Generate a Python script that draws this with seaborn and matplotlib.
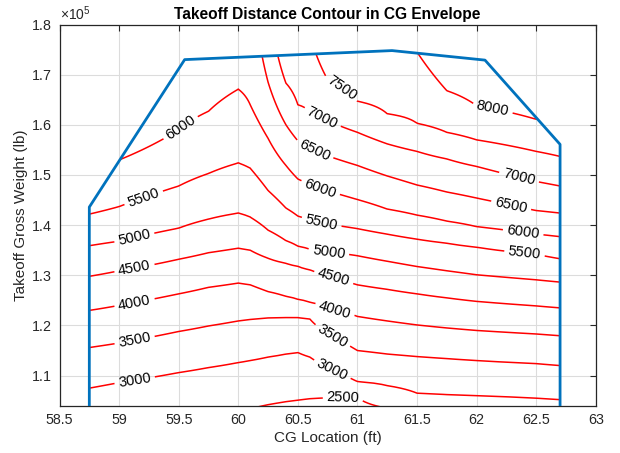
import numpy as np
import pandas as pd
import matplotlib
matplotlib.use("Agg")
import matplotlib.pyplot as plt
import seaborn as sns
from matplotlib.patches import Polygon
from matplotlib.ticker import FuncFormatter, ScalarFormatter

# ---------------- data ----------------
# CG stations (ft) at which the contour crossings were read
cg_stations = [58.75, 59.0, 59.5, 59.75, 60.0, 60.1, 60.25, 60.4, 60.5, 60.6,
               60.75, 61.0, 61.25, 61.5, 61.75, 62.0, 62.5, 62.7]

# gross weight (x1e5 lb) where each takeoff-distance level is met at each station
w_2000 = [0.915, 0.920, 0.935, 0.940, 0.945, 0.950, 0.955, 0.960, 0.960, 0.962,
          0.965, 0.965, 0.960, 0.955, 0.950, 0.945, 0.940, 0.935]
w_2500 = [0.995, 1.003, 1.018, 1.024, 1.030, 1.034, 1.042, 1.048, 1.051, 1.054,
          1.056, 1.056, 1.035, 1.020, 1.012, 1.005, 0.995, 0.990]
w_3000 = [1.075, 1.086, 1.106, 1.116, 1.126, 1.130, 1.137, 1.143, 1.146, 1.137,
          1.116, 1.088, 1.080, 1.065, 1.062, 1.060, 1.055, 1.052]
w_3500 = [1.156, 1.165, 1.188, 1.199, 1.209, 1.212, 1.215, 1.216, 1.216, 1.213,
          1.186, 1.150, 1.143, 1.138, 1.134, 1.130, 1.124, 1.120]
w_4000 = [1.230, 1.240, 1.263, 1.276, 1.2845, 1.281, 1.2675, 1.258, 1.252, 1.246,
          1.235, 1.218, 1.209, 1.201, 1.195, 1.190, 1.183, 1.1795]
w_4500 = [1.298, 1.309, 1.332, 1.345, 1.354, 1.350, 1.334, 1.324, 1.318, 1.311,
          1.300, 1.281, 1.272, 1.263, 1.255, 1.248, 1.239, 1.235]
w_5000 = [1.359, 1.368, 1.394, 1.412, 1.424, 1.416, 1.390, 1.369, 1.358, 1.352,
          1.347, 1.339, 1.328, 1.3175, 1.309, 1.301, 1.291, 1.2865]
w_5500 = [1.422, 1.437, 1.478, 1.503, 1.524, 1.5135, 1.469, 1.434, 1.418, 1.410,
          1.402, 1.393, 1.382, 1.372, 1.364, 1.356, 1.342, 1.333]
w_6000 = [1.485, 1.530, 1.590, 1.627, 1.671, 1.640, 1.573, 1.519, 1.492, 1.481,
          1.468, 1.451, 1.432, 1.420, 1.408, 1.397, 1.382, 1.377]
w_6500 = [1.560, 1.620, 1.760, 1.820, 1.900, 1.900, 1.685, 1.600, 1.568, 1.552,
          1.538, 1.519, 1.498, 1.480, 1.466, 1.454, 1.429, 1.424]
w_7000 = [1.640, 1.720, 1.850, 1.900, 1.950, 1.950, 1.850, 1.683, 1.640, 1.625,
          1.608, 1.585, 1.562, 1.547, 1.532, 1.517, 1.487, 1.478]
w_7500 = [1.720, 1.800, 1.920, 1.950, 2.000, 2.000, 1.950, 1.780, 1.780, 1.780,
          1.690, 1.647, 1.622, 1.603, 1.585, 1.570, 1.547, 1.537]
w_8000 = [1.800, 1.880, 1.980, 2.000, 2.050, 2.050, 2.000, 1.950, 1.900, 1.850,
          1.800, 1.770, 1.755, 1.745, 1.668, 1.638, 1.611, 1.605]
w_8500 = [1.900, 1.950, 2.050, 2.100, 2.100, 2.100, 2.050, 2.000, 2.000, 1.980,
          1.950, 1.900, 1.860, 1.830, 1.790, 1.760, 1.700, 1.690]

table_levels = [2000, 2500, 3000, 3500, 4000, 4500, 5000, 5500, 6000, 6500,
                7000, 7500, 8000, 8500]
shown_levels = [2500, 3000, 3500, 4000, 4500, 5000, 5500, 6000, 6500, 7000,
                7500, 8000]

# CG envelope (ft, lb)
env_cg = [58.75, 58.75, 59.55, 61.29, 62.07, 62.70, 62.70]
env_w = [1.00e5, 1.436e5, 1.730e5, 1.748e5, 1.729e5, 1.561e5, 1.00e5]

# x / y ticks
x_ticks = [58.5, 59, 59.5, 60, 60.5, 61, 61.5, 62, 62.5, 63]
y_ticks = [1.1e5, 1.2e5, 1.3e5, 1.4e5, 1.5e5, 1.6e5, 1.7e5, 1.8e5]

# ---------------- build the grid the contour routine needs ----------------
crossings = np.array([w_2000, w_2500, w_3000, w_3500, w_4000, w_4500, w_5000,
                      w_5500, w_6000, w_6500, w_7000, w_7500, w_8000, w_8500])
w_rows = np.arange(0.95, 2.1001, 0.0025)
Z = np.empty((len(w_rows), len(cg_stations)))
for j in range(len(cg_stations)):
    Z[:, j] = np.interp(w_rows, crossings[:, j], table_levels)

# ---------------- plotting ----------------
sns.set_theme(style="white")
plt.rcParams['font.family'] = ['Liberation Sans', 'DejaVu Sans']
plt.rcParams['mathtext.fontset'] = 'custom'
plt.rcParams['mathtext.rm'] = 'Liberation Sans'

dark = '#262626'
fig = plt.figure(figsize=(6.2, 4.53), dpi=100)
ax = fig.add_axes([0.096, 0.1044, 0.865, 0.8415])

ax.grid(True, color='#dcdcdc', linewidth=0.8, zorder=0)
ax.set_axisbelow(True)

clip_poly = Polygon(np.column_stack([env_cg, env_w]), closed=True,
                    facecolor='none', edgecolor='none')
ax.add_patch(clip_poly)

cs = ax.contour(cg_stations, w_rows * 1e5, Z, levels=shown_levels,
                colors='#ff0000', linewidths=1.1, zorder=2)
cs.set_clip_path(clip_poly)

label_pos = [(59.53, 1.59e5), (59.21, 1.452e5), (59.13, 1.373e5), (59.13, 1.313e5),
             (59.13, 1.245e5), (59.13, 1.171e5), (59.13, 1.092e5),
             (60.86, 1.672e5), (60.70, 1.612e5), (60.64, 1.55e5), (60.69, 1.474e5),
             (60.70, 1.407e5), (60.76, 1.347e5), (60.80, 1.295e5), (60.81, 1.231e5),
             (60.79, 1.179e5), (60.78, 1.108e5), (60.88, 1.054e5),
             (62.13, 1.627e5), (62.35, 1.490e5), (62.29, 1.44e5), (62.39, 1.385e5),
             (62.40, 1.339e5)]
ax.set_xlim(58.5, 63)
ax.set_ylim(1.04e5, 1.8e5)
ax.clabel(cs, manual=label_pos, inline=True, fmt='%d', fontsize=10.5,
          colors='black', inline_spacing=4)

env_df = pd.DataFrame({'cg': env_cg, 'w': env_w})
sns.lineplot(data=env_df, x='cg', y='w', sort=False, estimator=None,
             color='#0072BD', linewidth=2.0, ax=ax, zorder=3)

ax.set_xlim(58.5, 63)
ax.set_ylim(1.04e5, 1.8e5)
ax.set_xticks(x_ticks)
ax.set_yticks(y_ticks)
ax.xaxis.set_major_formatter(FuncFormatter(lambda v, p: f"{v:g}"))
yfmt = ScalarFormatter(useMathText=True)
yfmt.set_powerlimits((0, 0))
ax.yaxis.set_major_formatter(yfmt)
ax.yaxis.get_offset_text().set_fontsize(10)
ax.yaxis.get_offset_text().set_color(dark)

ax.tick_params(axis='both', direction='in', top=True, right=True, length=4,
               width=0.8, colors=dark, labelsize=10.3, pad=5)
for s in ax.spines.values():
    s.set_color(dark)
    s.set_linewidth(0.9)
    s.set_visible(True)

ax.set_xlabel('CG Location (ft)', fontsize=11, color=dark, labelpad=3)
ax.set_ylabel('Takeoff Gross Weight (lb)', fontsize=11, color=dark, labelpad=2)
ax.set_title('Takeoff Distance Contour in CG Envelope', fontsize=11.2,
             fontweight='bold', color='black', pad=4)

fig.savefig('out.png', dpi=100)
